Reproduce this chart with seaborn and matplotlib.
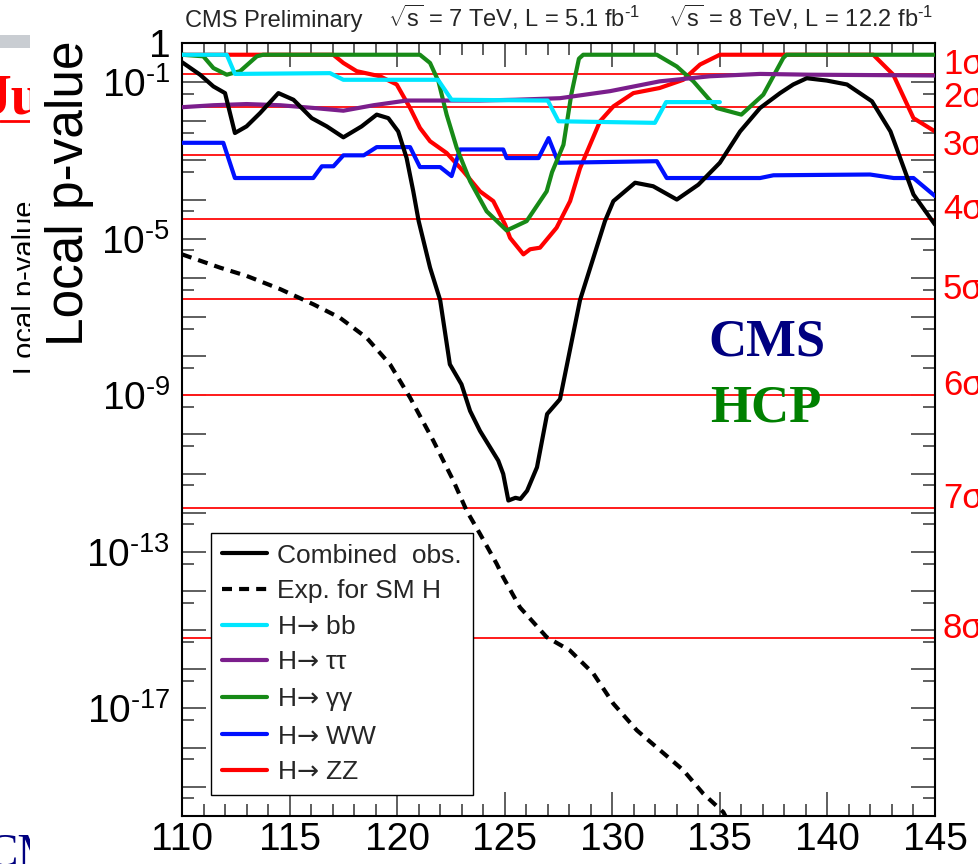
import numpy as np
import pandas as pd
import matplotlib
matplotlib.use("Agg")
import matplotlib.pyplot as plt
import seaborn as sns
from matplotlib.patches import Rectangle
from matplotlib.lines import Line2D
from matplotlib.ticker import FixedLocator, FixedFormatter, MultipleLocator
from matplotlib.transforms import blended_transform_factory

# ---------------- data (log10 of local p-value) ----------------
comb_mass = [110.0, 110.84, 111.46, 112.0, 112.46, 113.0, 113.63, 114.48, 115.18, 116.03,
             116.73, 117.5, 118.35, 119.05, 119.59, 120.05, 120.44, 120.75, 121.0, 121.53,
             122.0, 122.45, 122.99, 123.39, 123.85, 124.7, 124.93, 125.17, 125.5, 125.73,
             126.04, 126.5, 126.97, 127.57, 128.5, 129.12, 129.66, 130.05, 131.06, 131.9,
             133.0, 134.0, 135.0, 135.94, 136.87, 137.8, 138.41, 139.04, 139.97, 140.91,
             142.07, 142.93, 144.0, 145.0]
comb_log10p = [-0.49, -0.81, -1.11, -1.28, -2.30, -2.13, -1.79, -1.28, -1.45, -1.92,
               -2.13, -2.41, -2.13, -1.83, -1.92, -2.26, -2.94, -3.79, -4.55, -5.74,
               -6.57, -8.21, -8.72, -9.40, -9.91, -10.67, -11.01, -11.69, -11.62, -11.65,
               -11.44, -10.84, -9.48, -9.10, -6.57, -5.49, -4.55, -4.04, -3.57, -3.66,
               -4.00, -3.62, -3.06, -2.26, -1.66, -1.28, -1.06, -0.90, -0.96, -1.06,
               -1.49, -2.26, -3.87, -4.64]

exp_mass = [110.0, 111.77, 113.0, 114.57, 116.12, 117.34, 118.58, 119.67, 120.6, 121.68,
            122.61, 123.23, 123.85, 124.63, 124.93, 125.71, 126.95, 128.03, 129.12, 130.05,
            131.14, 132.22, 133.3, 134.23, 135.16, 135.4]
exp_log10p = [-5.40, -5.74, -5.95, -6.29, -6.68, -7.02, -7.53, -8.21, -9.06, -10.16,
              -11.18, -11.95, -12.54, -13.31, -13.65, -14.42, -15.18, -15.52, -16.11, -16.88,
              -17.56, -18.07, -18.58, -19.18, -19.65, -19.90]

bb_mass = [110.0, 112.08, 112.46, 116.88, 117.5, 121.9, 122.53, 127.0, 127.5, 131.98, 132.5, 135.0]
bb_log10p = [-0.30, -0.30, -0.79, -0.77, -0.94, -0.94, -1.45, -1.47, -2.00, -2.04, -1.51, -1.51]

tautau_mass = [110.0, 111.46, 113.0, 114.57, 116.12, 117.5, 118.9, 120.44, 122.3, 123.85,
               125.5, 127.57, 129.9, 132.2, 134.54, 136.87, 139.2, 145.0]
tautau_log10p = [-1.64, -1.59, -1.56, -1.59, -1.66, -1.73, -1.59, -1.47, -1.47, -1.47,
                 -1.45, -1.41, -1.23, -0.98, -0.85, -0.79, -0.81, -0.83]

gg_mass = [110.0, 110.99, 111.46, 112.08, 112.7, 113.48, 113.77, 121.06, 121.53, 121.92,
           122.3, 122.77, 123.39, 124.16, 125.09, 126.02, 126.95, 127.2, 127.73, 128.1,
           128.45, 128.65, 132.07, 133.0, 133.77, 134.85, 136.0, 137.02, 137.95, 138.1, 145.0]
gg_log10p = [-0.30, -0.34, -0.64, -0.81, -0.72, -0.34, -0.30, -0.30, -0.51, -0.98,
             -1.83, -2.68, -3.53, -4.30, -4.79, -4.55, -3.79, -3.30, -2.60, -1.30,
             -0.40, -0.30, -0.30, -0.60, -0.98, -1.66, -1.83, -1.32, -0.38, -0.30, -0.30]

ww_mass = [110.0, 111.92, 112.46, 116.1, 116.5, 117.04, 117.5, 118.45, 119.05, 120.6,
           121.06, 122.0, 122.53, 122.92, 124.93, 125.09, 126.57, 127.04, 127.5, 132.07,
           132.53, 136.87, 137.49, 141.98, 143.08, 144.0, 145.0]
ww_log10p = [-2.55, -2.55, -3.45, -3.45, -3.15, -3.15, -2.87, -2.87, -2.66, -2.66,
             -3.17, -3.17, -3.40, -2.72, -2.72, -2.94, -2.94, -2.43, -3.06, -3.02,
             -3.45, -3.45, -3.38, -3.36, -3.45, -3.45, -3.91]

zz_mass = [110.0, 117.03, 117.5, 118.12, 119.2, 119.98, 120.6, 121.06, 121.53, 122.3,
           123.08, 123.85, 124.47, 125.02, 125.25, 125.87, 126.18, 126.64, 127.41, 128.04,
           128.5, 129.43, 130.05, 130.98, 132.2, 133.3, 134.08, 135.0, 142.13, 143.06,
           144.0, 145.0]
zz_log10p = [-0.30, -0.30, -0.51, -0.72, -0.85, -1.06, -1.66, -2.17, -2.51, -2.81,
             -3.28, -3.79, -4.04, -4.64, -4.98, -5.40, -5.27, -5.23, -4.72, -4.04,
             -3.20, -2.00, -1.62, -1.28, -1.15, -0.94, -0.55, -0.30, -0.30, -0.81,
             -1.92, -2.26]

sigma_labels = ["1σ", "2σ", "3σ", "4σ", "5σ", "6σ", "7σ", "8σ"]
sigma_pvalues = [1.587e-1, 2.275e-2, 1.350e-3, 3.167e-5, 2.867e-7, 9.866e-10, 1.280e-12, 6.221e-16]

xtick_values = [110, 115, 120, 125, 130, 135, 140, 145]
ytick_exponents = [0, -1, -5, -9, -13, -17]
ytick_labels = ["1", r"$10^{\text{-}1}$", r"$10^{\text{-}5}$", r"$10^{\text{-}9}$",
                r"$10^{\text{-}13}$", r"$10^{\text{-}17}$"]

legend_labels = ["Combined  obs.", "Exp. for SM H", "H$\\mathsf{\u2192}$ bb",
                 "H$\\mathsf{\u2192}$ \u03c4\u03c4", "H$\\mathsf{\u2192}$ \u03b3\u03b3",
                 "H$\\mathsf{\u2192}$ WW", "H$\\mathsf{\u2192}$ ZZ"]

# ---------------- style ----------------
sns.set_style("ticks")
plt.rcParams['font.family'] = ['Liberation Sans', 'DejaVu Sans']
plt.rcParams['mathtext.fontset'] = 'custom'
plt.rcParams['mathtext.rm'] = 'Liberation Sans'
plt.rcParams['mathtext.it'] = 'Liberation Sans:italic'
plt.rcParams['mathtext.bf'] = 'Liberation Sans:bold'
plt.rcParams['mathtext.sf'] = 'DejaVu Sans'

W, H = 979, 864
fig = plt.figure(figsize=(W / 100, H / 100), dpi=100)
fig.patch.set_facecolor('white')


def fx(px):
    return px / W


def fy(py):
    return 1 - py / H


# ---------------- slide artefacts at the left edge ----------------
fig.add_artist(Rectangle((0, fy(48)), fx(30), 13 / H, transform=fig.transFigure,
                         facecolor='#c9cdd2', edgecolor='none', zorder=-3))
fig.text(fx(-16), fy(113), "Jul", color='red', fontsize=40, fontweight='bold',
         family='Liberation Serif', va='baseline', ha='left', zorder=-3)
fig.add_artist(Line2D([0, fx(40)], [fy(121), fy(121)], transform=fig.transFigure,
                      color='red', lw=2, zorder=-3))
fig.text(fx(34), fy(200), "Local p-value", rotation=90, rotation_mode='anchor',
         ha='right', va='baseline', fontsize=21, color='black', zorder=-3)
fig.text(fx(-14), fy(866), "CMS", color='#000080', fontsize=34,
         family='Liberation Serif', va='baseline', ha='left', zorder=-3)
fig.add_artist(Rectangle((fx(30), 0), 1 - fx(30), 1, transform=fig.transFigure,
                         facecolor='white', edgecolor='none', zorder=-2))

# ---------------- axes ----------------
ax = fig.add_axes([fx(182), fy(816), fx(935) - fx(182), fy(43) - fy(816)])
ax.set_facecolor('white')
ax.set_yscale('log')

for p in sigma_pvalues:
    ax.axhline(p, color='#ff1a1a', lw=1.4, zorder=1)

series = [
    (zz_mass, zz_log10p, '#ff0000', '-', 2),
    (ww_mass, ww_log10p, '#0010ff', '-', 3),
    (gg_mass, gg_log10p, '#178a17', '-', 4),
    (tautau_mass, tautau_log10p, '#7b1e8c', '-', 5),
    (bb_mass, bb_log10p, '#00e6ff', '-', 6),
    (exp_mass, exp_log10p, 'black', (0, (2.4, 1.7)), 7),
    (comb_mass, comb_log10p, 'black', '-', 8),
]
for m, lp, col, ls, z in series:
    df = pd.DataFrame({'mass': m, 'pvalue': 10.0 ** np.asarray(lp)})
    sns.lineplot(data=df, x='mass', y='pvalue', ax=ax, color=col, linewidth=3,
                 linestyle=ls, estimator=None, sort=False, legend=False, zorder=z)

ax.set_xlim(110, 145)
ax.set_ylim(10.0 ** -19.75, 1.0)
ax.set_xlabel("")
ax.set_ylabel("")

# ticks
ax.xaxis.set_major_locator(FixedLocator(xtick_values))
ax.xaxis.set_major_formatter(FixedFormatter([str(v) for v in xtick_values]))
ax.xaxis.set_minor_locator(MultipleLocator(1))

dec = list(range(0, -20, -1))
ymaj = [10.0 ** d for d in dec]
ylab = [ytick_labels[ytick_exponents.index(d)] if d in ytick_exponents else "" for d in dec]
ax.yaxis.set_major_locator(FixedLocator(ymaj))
ax.yaxis.set_major_formatter(FixedFormatter(ylab))
ax.yaxis.set_minor_locator(FixedLocator([5 * 10.0 ** (d - 1) for d in dec]))
ax.yaxis.set_minor_formatter(FixedFormatter([""] * len(dec)))

ax.tick_params(axis='both', which='both', direction='in', top=True, right=True,
               color='#333333', labelcolor='black')
ax.tick_params(which='major', length=17, width=1.1)
ax.tick_params(which='minor', length=8.5, width=1.1)
ax.tick_params(axis='y', which='major', pad=8.5, labelsize=28)
ax.tick_params(axis='x', which='major', pad=4, labelsize=28)
for s in ax.spines.values():
    s.set_color('black')
    s.set_linewidth(1.5)

# sigma labels on the right
tr = blended_transform_factory(fig.transFigure, ax.transData)
for lab, p in zip(sigma_labels, sigma_pvalues):
    ax.text(fx(943), p, lab, transform=tr, color='#ff0000', fontsize=25,
            ha='left', va='baseline', clip_on=False)

# legend
handles = [
    Line2D([], [], color='black', lw=3),
    Line2D([], [], color='black', lw=3, ls=(0, (2.4, 1.7))),
    Line2D([], [], color='#00e6ff', lw=3),
    Line2D([], [], color='#7b1e8c', lw=3),
    Line2D([], [], color='#178a17', lw=3),
    Line2D([], [], color='#0010ff', lw=3),
    Line2D([], [], color='#ff0000', lw=3),
]
leg = ax.legend(handles, legend_labels, loc='upper left',
                bbox_to_anchor=(fx(211), fy(533)), bbox_transform=fig.transFigure,
                borderaxespad=0, frameon=True, fancybox=False, edgecolor='black',
                framealpha=1, fontsize=19, handlelength=1.74, handletextpad=0.38,
                labelspacing=0.44, borderpad=0.4)
leg.get_frame().set_linewidth(1.0)
leg.set_zorder(20)

# CMS / HCP overlay
ax.text(fx(767), fy(343), "CMS", transform=fig.transFigure, color='#000080',
        fontsize=38, fontweight='bold', family='Liberation Serif', ha='center', va='center')
ax.text(fx(766), fy(408), "HCP", transform=fig.transFigure, color='#008000',
        fontsize=38, fontweight='bold', family='Liberation Serif', ha='center', va='center')

# titles
fig.text(fx(83), fy(40), "Local p-value", rotation=90, rotation_mode='anchor',
         ha='right', va='baseline', fontsize=37, color='black')
fig.text(fx(185), fy(27), "CMS Preliminary", fontsize=17, ha='left', va='baseline')
fig.text(fx(388), fy(27), r"$\sqrt{\mathrm{s}}$ = 7 TeV, L = 5.1 fb$^{\text{-}1}$", fontsize=17,
         ha='left', va='baseline')
fig.text(fx(668), fy(27), r"$\sqrt{\mathrm{s}}$ = 8 TeV, L = 12.2 fb$^{\text{-}1}$", fontsize=17,
         ha='left', va='baseline')

fig.savefig("out.png", dpi=100, facecolor='white')
